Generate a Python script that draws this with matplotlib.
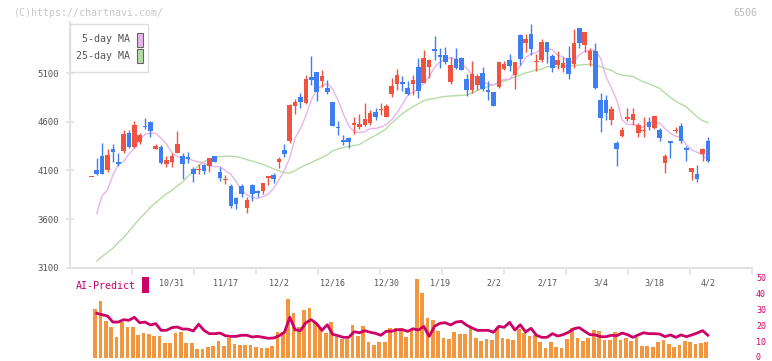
import numpy as np
import matplotlib.pyplot as plt
from matplotlib.patches import Rectangle
from matplotlib.transforms import blended_transform_factory

W, H = 772, 361
MONO = "DejaVu Sans Mono"

# daily candles, oldest first (last one is 4/2)
opens = [4030, 4104, 4247, 4104, 4319, 4189, 4299, 4481, 4337, 4394,
         4556, 4600, 4322, 4343, 4165, 4189, 4281, 4247, 4234, 4111,
         4100, 4155, 4148, 4247, 4086, 4004, 3939, 3813, 3939, 3716,
         3950, 3891, 3888, 4025, 4052, 4189, 4309, 4401, 4761, 4854,
         4792, 5059, 5110, 5018, 4946, 4802, 4549, 4412, 4432, 4563,
         4549, 4566, 4583, 4700, 4716, 4651, 4884, 4987, 5008, 4946,
         4987, 5162, 4997, 5162, 5346, 5285, 5285, 5008, 5244, 5254,
         5038, 4926, 4977, 5100, 4926, 4905, 4956, 5141, 5234, 5080,
         5490, 5408, 5501, 5210, 5234, 5419, 5275, 5182, 5152, 5254,
         5193, 5562, 5388, 5234, 5326, 4823, 4823, 4617, 4384, 4453,
         4628, 4617, 4487, 4505, 4600, 4538, 4514, 4179, 4402, 4501,
         4556, 4326, 4086, 4062, 4268, 4402]
highs = [4032, 4230, 4384, 4319, 4371, 4275, 4515, 4515, 4607, 4487,
         4635, 4610, 4371, 4360, 4251, 4282, 4504, 4281, 4286, 4131,
         4162, 4165, 4230, 4251, 4131, 4052, 3961, 3829, 3957, 3829,
         3961, 3902, 3973, 4042, 4076, 4234, 4371, 4782, 4833, 4892,
         5080, 5275, 5110, 5131, 5028, 4802, 4610, 4463, 4446, 4645,
         4679, 4792, 4720, 4738, 4789, 4782, 5049, 5141, 5069, 5018,
         5080, 5254, 5336, 5244, 5480, 5357, 5367, 5264, 5357, 5264,
         5090, 5223, 5090, 5162, 5018, 4905, 5213, 5223, 5295, 5213,
         5501, 5501, 5603, 5295, 5449, 5419, 5295, 5326, 5264, 5377,
         5552, 5562, 5521, 5357, 5408, 4892, 4874, 4761, 4405, 4549,
         4741, 4741, 4590, 4651, 4648, 4658, 4535, 4265, 4402, 4542,
         4583, 4350, 4121, 4155, 4326, 4446]
lows = [4028, 4052, 4059, 4086, 4183, 4148, 4281, 4330, 4329, 4374,
        4525, 4446, 4315, 4165, 4138, 4138, 4275, 4011, 4172, 3983,
        4059, 4059, 4086, 4183, 3991, 3957, 3714, 3703, 3823, 3665,
        3788, 3823, 3857, 3950, 3973, 4127, 4240, 4384, 4679, 4744,
        4782, 4977, 4812, 4956, 4884, 4556, 4463, 4360, 4333, 4473,
        4521, 4556, 4566, 4617, 4669, 4645, 4857, 4926, 4915, 4874,
        4874, 4843, 4997, 5049, 5234, 5152, 5193, 4987, 5141, 5131,
        4864, 4895, 4926, 4915, 4823, 4761, 4946, 5131, 5121, 4936,
        5182, 5316, 5285, 5121, 5213, 5203, 5110, 5141, 5110, 5038,
        5152, 5357, 5316, 5172, 4936, 4497, 4617, 4566, 4145, 4443,
        4610, 4566, 4443, 4446, 4511, 4521, 4402, 4076, 4230, 4480,
        4384, 4199, 4001, 3983, 4199, 4189]
closes = [4030, 4059, 4059, 4261, 4285, 4168, 4473, 4337, 4566, 4463,
          4542, 4507, 4350, 4172, 4206, 4247, 4371, 4162, 4214, 4059,
          4114, 4097, 4224, 4189, 4025, 4011, 3734, 3754, 3857, 3795,
          3857, 3864, 3973, 4042, 4011, 4217, 4268, 4771, 4802, 4802,
          5038, 5028, 4905, 5069, 4905, 4556, 4532, 4394, 4394, 4590,
          4576, 4628, 4686, 4651, 4720, 4761, 4967, 5080, 4987, 4884,
          5028, 4915, 5254, 5234, 5326, 5264, 5213, 5182, 5152, 5131,
          4926, 5090, 5069, 4936, 4905, 4761, 5213, 5193, 5172, 5213,
          5244, 5449, 5346, 5215, 5419, 5316, 5152, 5234, 5203, 5090,
          5408, 5408, 5521, 5326, 4946, 4635, 4686, 4730, 4319, 4518,
          4651, 4679, 4566, 4510, 4549, 4658, 4436, 4247, 4384, 4514,
          4405, 4312, 4121, 4011, 4319, 4199]

nan = np.nan
ma5 = [nan, 3659, 3840, 3898, 4050, 4160, 4190, 4270, 4330, 4410,
       4470, 4481, 4481, 4430, 4370, 4280, 4245, 4224, 4222, 4200,
       4185, 4175, 4145, 4138, 4138, 4095, 4060, 3985, 3900, 3850,
       3823, 3810, 3830, 3855, 3915, 4005, 4095, 4230, 4435, 4530,
       4660, 4820, 4930, 4965, 4994, 4935, 4820, 4680, 4560, 4495,
       4487, 4497, 4530, 4530, 4545, 4570, 4620, 4690, 4780, 4870,
       4905, 4935, 5000, 5060, 5160, 5210, 5245, 5258, 5240, 5210,
       5148, 5085, 5040, 5015, 4985, 4977, 5008, 5035, 5035, 5110,
       5170, 5260, 5295, 5310, 5350, 5354, 5340, 5280, 5268, 5205,
       5220, 5290, 5320, 5335, 5330, 5250, 5060, 4950, 4820, 4620,
       4570, 4575, 4560, 4540, 4595, 4595, 4585, 4530, 4480, 4450,
       4440, 4360, 4310, 4285, 4260, 4200]
ma25 = [nan, 3170, 3215, 3255, 3300, 3360, 3410, 3475, 3540, 3605,
        3660, 3720, 3770, 3815, 3860, 3893, 3940, 3980, 4040, 4085,
        4150, 4190, 4215, 4232, 4240, 4245, 4247, 4240, 4230, 4210,
        4195, 4180, 4160, 4140, 4115, 4095, 4075, 4072, 4098, 4130,
        4155, 4180, 4206, 4232, 4260, 4300, 4320, 4335, 4346, 4355,
        4365, 4400, 4430, 4460, 4490, 4530, 4585, 4635, 4683, 4720,
        4754, 4785, 4815, 4830, 4837, 4850, 4860, 4864, 4867, 4870,
        4874, 4895, 4920, 4940, 4962, 4980, 5000, 5018, 5035, 5060,
        5080, 5100, 5115, 5132, 5140, 5165, 5165, 5165, 5168, 5172,
        5178, 5182, 5186, 5189, 5178, 5165, 5145, 5128, 5095, 5078,
        5072, 5065, 5035, 5010, 4990, 4965, 4943, 4895, 4850, 4810,
        4780, 4750, 4700, 4650, 4610, 4590]

volume = [nan, 30.8, 35.8, 23.3, 19.5, 13.2, 22.6, 19.5, 19.5, 14.5,
          15.7, 15.1, 13.8, 13.8, 9.4, 9.4, 15.7, 16.4, 9.4, 9.4,
          5.7, 5.7, 6.9, 7.5, 10.7, 7.5, 12.6, 8.8, 8.2, 8.2,
          8.2, 6.9, 6.3, 6.3, 7.5, 16.4, 16.4, 37.1, 28.3, 19.5,
          30.2, 31.4, 21.8, 19.3, 15.5, 22.6, 13.0, 12.0, 12.0, 20.8,
          13.8, 20.1, 10.1, 8.2, 10.1, 10.1, 18.9, 18.9, 18.9, 13.2,
          17.6, 49.5, 40.9, 25.2, 23.9, 17.0, 12.6, 12.0, 16.4, 15.1,
          15.1, 19.5, 12.6, 10.7, 12.0, 11.3, 18.9, 12.6, 12.0, 11.3,
          18.2, 15.7, 13.8, 14.5, 10.1, 6.3, 10.1, 6.9, 6.3, 12.0,
          18.9, 12.6, 10.7, 12.6, 17.6, 17.0, 11.3, 11.3, 16.4, 11.3,
          12.6, 10.7, 13.2, 7.5, 7.5, 6.9, 10.1, 11.3, 8.8, 6.9,
          8.2, 10.7, 10.1, 8.8, 9.4, 10.1]
ai_predict = [nan, 28.1, 27.2, 26.4, 22.6, 22.6, 24.1, 23.7, 25.6, 22.2,
              22.6, 20.8, 21.6, 17.4, 17.4, 19.1, 19.5, 18.2, 18.2, 17.0,
              21.2, 17.4, 15.3, 15.3, 15.7, 14.0, 13.6, 13.6, 14.3, 14.3,
              13.2, 13.6, 13.0, 12.4, 12.6, 14.0, 16.2, 25.6, 17.8, 17.2,
              22.2, 24.1, 21.6, 17.4, 20.9, 14.9, 14.0, 13.0, 13.0, 16.5,
              15.9, 17.2, 16.2, 15.5, 14.3, 16.8, 16.8, 17.8, 17.8, 16.8,
              18.4, 17.6, 19.9, 13.6, 19.9, 21.8, 22.2, 20.8, 22.6, 23.1,
              20.6, 18.9, 17.4, 17.4, 17.4, 16.2, 19.9, 19.3, 22.4, 17.6,
              20.9, 16.4, 18.7, 14.3, 13.0, 13.0, 15.3, 13.8, 14.7, 16.2,
              18.4, 19.1, 16.8, 14.7, 14.5, 13.4, 13.4, 14.3, 14.0, 15.7,
              14.7, 13.0, 14.5, 15.9, 15.3, 15.3, 15.1, 13.4, 14.5, 13.0,
              14.5, 13.4, 14.5, 15.7, 17.2, 14.3]

date_labels = ["10/31", "11/17", "12/2", "12/16", "12/30", "1/19",
               "2/2", "2/17", "3/4", "3/18", "4/2"]
first_label = 15
label_step = 10
price_ticks = [3100, 3600, 4100, 4600, 5100]
ai_ticks = [0, 10, 20, 30, 40, 50]

UP = "#f0533f"
DOWN = "#3f7ef0"
MA5_C = "#e8b4ea"
MA25_C = "#b4dca4"
AI_C = "#cc0066"
VOL_C = "#f2963f"
AXIS_C = "#e2e2e2"


def fx(px):
    return px / W


def fy(py):
    return 1 - py / H


fig = plt.figure(figsize=(W / 100, H / 100), dpi=100)

# price panel: x 70..752 px, y 22..267.7 px
ax = fig.add_axes([fx(70), fy(267.7), fx(752 - 70), (267.7 - 22) / H])
n = len(closes)
idx = np.arange(n)
xmin, xmax = -4.0, 123.23
ax.set_xlim(xmin, xmax)
ax.set_ylim(3100, 3100 + (267.7 - 22) * 10.273)

o = np.array(opens, float)
c = np.array(closes, float)
colors = [UP if cc >= oo else DOWN for oo, cc in zip(o, c)]
ax.vlines(idx, lows, highs, colors=colors, linewidth=1.0, zorder=3)
bottoms = np.minimum(o, c)
heights = np.maximum(np.abs(c - o), 10)
ax.bar(idx, heights, bottom=bottoms, width=0.86, color=colors,
       linewidth=0, zorder=4)

ax.plot(idx, ma25, color=MA25_C, linewidth=1.0, zorder=2)
ax.plot(idx, ma5, color=MA5_C, linewidth=1.0, zorder=2)

for side in ("top", "right"):
    ax.spines[side].set_visible(False)
for side in ("left", "bottom"):
    ax.spines[side].set_color(AXIS_C)
    ax.spines[side].set_linewidth(1.5)
ax.set_yticks(price_ticks)
ax.set_yticklabels([str(t) for t in price_ticks], family=MONO,
                   fontsize=6.5, color="#555555")
ax.tick_params(axis="y", direction="inout", length=6, width=1.2,
               color=AXIS_C, pad=5)
ax.set_xticks(np.linspace(xmin, xmax, 12)[1:])
ax.set_xticklabels([])
ax.tick_params(axis="x", direction="out", length=5, width=1.2,
               color=AXIS_C)

# date labels in the gap between panels
tr = blended_transform_factory(ax.transData, fig.transFigure)
for k, lab in enumerate(date_labels):
    ax.text(first_label + k * label_step, fy(283), lab, transform=tr,
            ha="center", va="center", family=MONO, fontsize=6,
            color="#555555")

# AI-Predict panel
ax2 = fig.add_axes([fx(70), fy(358), fx(752 - 70), (358 - 276) / H])
ax2.set_xlim(xmin, xmax)
ax2.set_ylim(0, (358 - 276) / 1.59)
ax2.bar(idx - 0.3, volume, width=0.69, color=VOL_C, linewidth=0,
        zorder=2)
ax2.plot(idx, ai_predict, color=AI_C, linewidth=2.0, zorder=3)
ax2.axis("off")
tr2 = blended_transform_factory(fig.transFigure, ax2.transData)
for t in ai_ticks:
    ax2.text(fx(756), t, str(t), transform=tr2, ha="left", va="center",
             family=MONO, fontsize=6, color=AI_C)

fig.text(fx(76), fy(286), "AI-Predict", family=MONO, fontsize=7.2,
         color=AI_C, ha="left", va="center")
fig.patches.append(Rectangle((fx(142), fy(293)), fx(7), (293 - 277) / H,
                             transform=fig.transFigure, facecolor=AI_C,
                             edgecolor="none"))

# legend box
fig.patches.append(Rectangle((fx(70), fy(72)), fx(78), (72 - 24) / H,
                             transform=fig.transFigure, facecolor="white",
                             edgecolor="#dddddd", linewidth=1.0, zorder=5))
for label, col, yc in (("5-day MA", MA5_C, 39.5), ("25-day MA", MA25_C, 56)):
    fig.text(fx(130), fy(yc), label, family=MONO, fontsize=7.2,
             color="#555555", ha="right", va="center", zorder=6)
    fig.patches.append(Rectangle((fx(136.5), fy(yc + 7)), fx(6), 14 / H,
                                 transform=fig.transFigure, facecolor=col,
                                 edgecolor="#666666", linewidth=0.8,
                                 zorder=6))

fig.text(fx(14), fy(12.5), "(C)https://chartnavi.com/", family=MONO,
         fontsize=7.2, color="#c8c8c8", ha="left", va="center")
fig.text(fx(757), fy(12.5), "6506", family=MONO, fontsize=7.2,
         color="#bbbbbb", ha="right", va="center")

fig.savefig("out.png", dpi=100)
